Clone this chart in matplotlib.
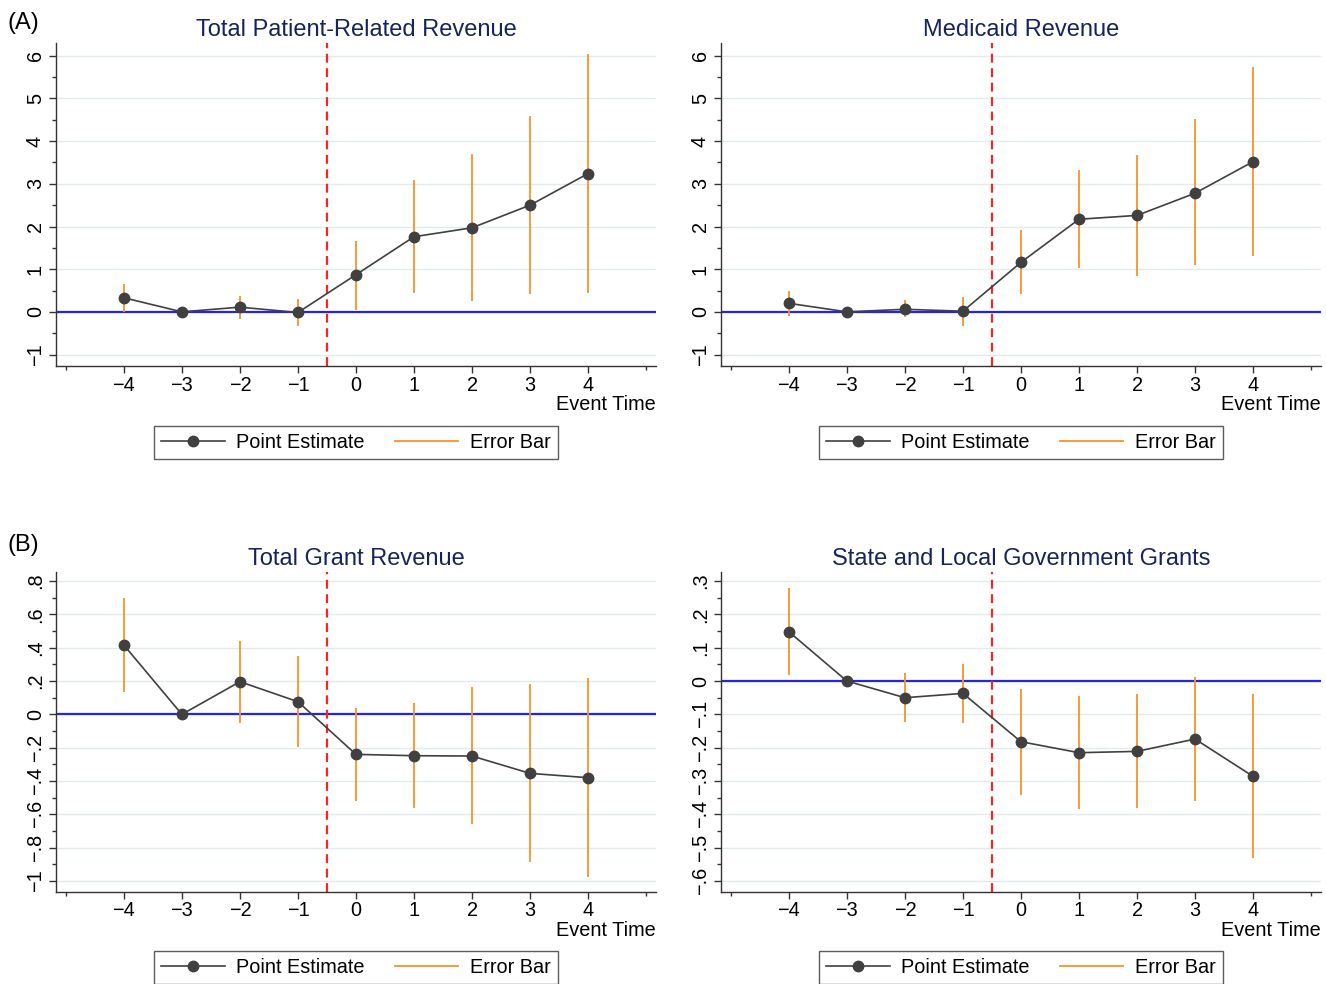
import matplotlib
matplotlib.use("Agg")
import matplotlib.pyplot as plt
from matplotlib.lines import Line2D
from matplotlib.ticker import MultipleLocator, FixedLocator

plt.rcParams['font.family'] = ['Liberation Sans', 'DejaVu Sans']

# tempo do evento
event_time = [-4, -3, -2, -1, 0, 1, 2, 3, 4]

# (A) Total Patient-Related Revenue
patient_est = [0.33, 0.0, 0.11, -0.015, 0.87, 1.76, 1.97, 2.50, 3.24]
patient_lo = [0.0, 0.0, -0.16, -0.34, 0.05, 0.45, 0.25, 0.43, 0.45]
patient_hi = [0.66, 0.0, 0.37, 0.30, 1.65, 3.08, 3.70, 4.59, 6.05]

# (A) Medicaid Revenue
medicaid_est = [0.20, 0.0, 0.06, 0.015, 1.16, 2.17, 2.26, 2.78, 3.52]
medicaid_lo = [-0.10, 0.0, -0.12, -0.32, 0.41, 1.02, 0.85, 1.09, 1.31]
medicaid_hi = [0.50, 0.0, 0.27, 0.35, 1.91, 3.33, 3.68, 4.51, 5.73]

# (B) Total Grant Revenue
grant_est = [0.416, 0.0, 0.196, 0.076, -0.24, -0.248, -0.25, -0.354, -0.38]
grant_lo = [0.136, 0.0, -0.05, -0.198, -0.52, -0.56, -0.66, -0.884, -0.974]
grant_hi = [0.696, 0.0, 0.44, 0.352, 0.036, 0.066, 0.162, 0.18, 0.216]

# (B) State and Local Government Grants
state_est = [0.148, 0.0, -0.05, -0.037, -0.182, -0.215, -0.211, -0.174, -0.286]
state_lo = [0.018, 0.0, -0.122, -0.125, -0.342, -0.385, -0.382, -0.359, -0.532]
state_hi = [0.278, 0.0, 0.023, 0.051, -0.024, -0.044, -0.039, 0.013, -0.04]

TITLE_COLOR = "#16245a"
ORANGE = "#f8922a"
POINT = "#404040"
FS = 14.3      # ticks / legend / "Event Time"
FS_TITLE = 17


def stata_fmt(v):
    if abs(v) < 1e-9:
        return "0"
    s = f"{abs(v):g}"
    if s.startswith("0."):
        s = s[1:]
    return ("\u2212" if v < 0 else "") + s


def plot_panel(ax, title, est, lo, hi, ylim, yticks, yminor):
    ax.set_xlim(-5.17, 5.17)
    ax.set_ylim(*ylim)

    for y in yticks:
        ax.axhline(y, color="#e2ebec", lw=1.0, zorder=0)
    ax.axhline(0, color="#2424e8", lw=1.6, zorder=1)
    ax.axvline(-0.5, color="#f02828", lw=1.6, ls=(0, (4, 2.5)), zorder=2)

    ax.vlines(event_time, lo, hi, color=ORANGE, lw=1.3, zorder=3)
    ax.plot(event_time, est, color=POINT, lw=1.2, marker='o', markersize=7.5,
            markerfacecolor=POINT, markeredgecolor=POINT, zorder=4)

    ax.set_title(title, fontsize=FS_TITLE, color=TITLE_COLOR, pad=5)

    for side in ['top', 'right']:
        ax.spines[side].set_visible(False)
    for side in ['left', 'bottom']:
        ax.spines[side].set_color("#333333")
        ax.spines[side].set_linewidth(1.0)

    ax.set_xticks(event_time)
    ax.set_xticklabels([stata_fmt(t) for t in event_time])
    ax.xaxis.set_minor_locator(FixedLocator([-5, 5]))
    ax.set_yticks(yticks)
    ax.set_yticklabels([stata_fmt(t) for t in yticks])
    ax.yaxis.set_minor_locator(MultipleLocator(yminor))

    ax.tick_params(axis='both', which='major', length=5, width=1, color="#333333",
                   labelsize=FS, pad=3)
    ax.tick_params(axis='x', which='major', pad=2)
    ax.tick_params(axis='both', which='minor', length=3, width=1, color="#333333")
    ax.tick_params(axis='y', labelrotation=90)
    for lbl in ax.get_yticklabels():
        lbl.set_va('center')

    ax.text(1.0, -0.12, "Event Time", transform=ax.transAxes, ha='right', va='center',
            fontsize=FS)

    handles = [Line2D([], [], color=POINT, lw=1.2, marker='o', markersize=7.5),
               Line2D([], [], color=ORANGE, lw=1.3)]
    leg = ax.legend(handles, ["Point Estimate", "Error Bar"], loc='upper center',
                    bbox_to_anchor=(0.5, -0.155), ncol=2, fontsize=FS, frameon=True,
                    fancybox=False, edgecolor="#333333", handlelength=3.2,
                    columnspacing=1.5, borderpad=0.35, handletextpad=0.6)
    leg.get_frame().set_linewidth(1.0)


fig = plt.figure(figsize=(13.26, 9.84), dpi=100)

ax1 = fig.add_axes([0.0422, 0.628, 0.4525, 0.3283])
ax2 = fig.add_axes([0.5437, 0.628, 0.4525, 0.3283])
ax3 = fig.add_axes([0.0422, 0.0938, 0.4525, 0.3252])
ax4 = fig.add_axes([0.5437, 0.0938, 0.4525, 0.3252])

top_ticks = [-1, 0, 1, 2, 3, 4, 5, 6]
plot_panel(ax1, "Total Patient-Related Revenue", patient_est, patient_lo, patient_hi,
           (-1.27, 6.30), top_ticks, 0.5)
plot_panel(ax2, "Medicaid Revenue", medicaid_est, medicaid_lo, medicaid_hi,
           (-1.27, 6.30), top_ticks, 0.5)
plot_panel(ax3, "Total Grant Revenue", grant_est, grant_lo, grant_hi,
           (-1.064, 0.856), [-1, -0.8, -0.6, -0.4, -0.2, 0, 0.2, 0.4, 0.6, 0.8], 0.1)
plot_panel(ax4, "State and Local Government Grants", state_est, state_lo, state_hi,
           (-0.632, 0.328), [-0.6, -0.5, -0.4, -0.3, -0.2, -0.1, 0, 0.1, 0.2, 0.3], 0.05)

fig.text(0.006, 0.977, "(A)", fontsize=17, va='center', ha='left')
fig.text(0.006, 0.446, "(B)", fontsize=17, va='center', ha='left')

fig.savefig("out.png", dpi=100, facecolor='white')
